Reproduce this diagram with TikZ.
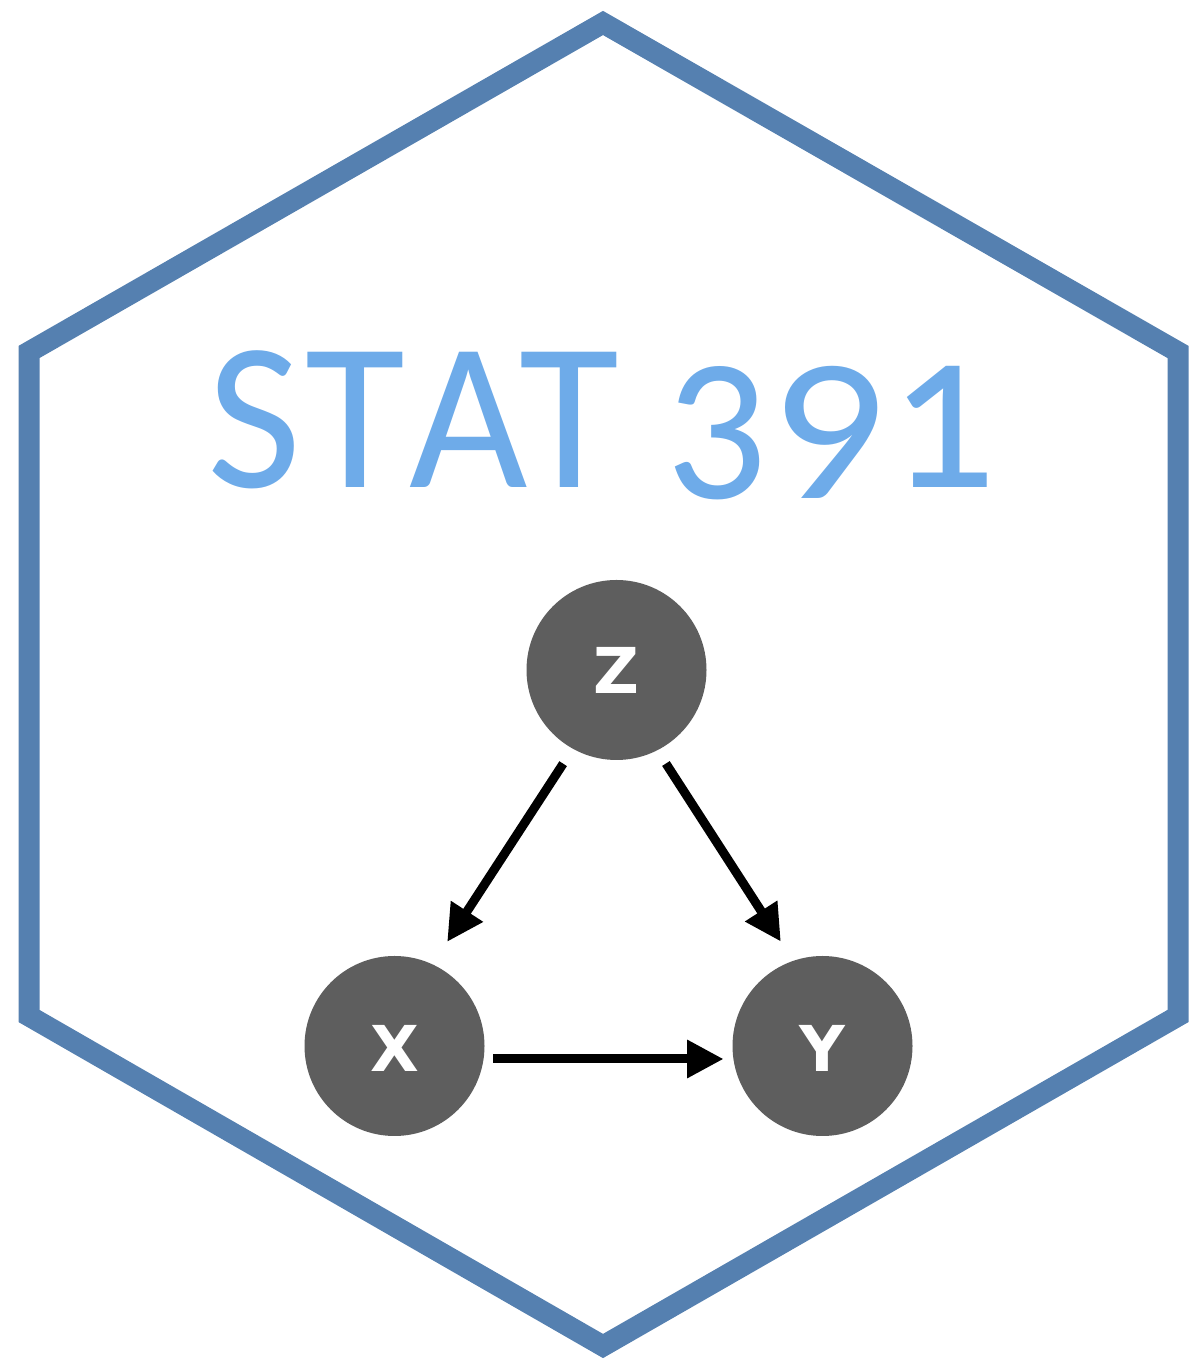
\documentclass[tikz,border=0pt]{standalone}
\usepackage{fontspec}
\usepackage{graphicx}
\newfontfamily\varfont{DejaVu Sans}
\newfontfamily\titlefont[Numbers=OldStyle, Kerning=Off, LetterSpace=2]{Carlito}
\usetikzlibrary{arrows.meta}

\begin{document}
\begin{tikzpicture}[
  % Hexagon frame
  hexframe/.style={draw=hexblue, line width=0.42cm, line join=miter},
  % Variable nodes
  var/.style={circle, fill=vargray, text=white, minimum size=3.6cm, inner sep=0pt, font=\fontsize{36}{36}\selectfont\varfont\bfseries},
  % Edges
  edge/.style={line width=0.18cm, -{Triangle[length=0.73cm, width=0.72cm]}},
  % Title
  title/.style={text=titleblue, inner sep=0pt, anchor=base west, xscale=0.97, transform shape, font=\fontsize{120}{120}\selectfont\titlefont}
]
\definecolor{hexblue}{HTML}{5580B0}
\definecolor{vargray}{HTML}{5E5E5E}
\definecolor{titleblue}{HTML}{6EABE9}

\useasboundingbox (0, 0) rectangle (24.08, 27.4);

% === Frame ===
\draw[hexframe] (12.06, 26.94) -- (23.56, 20.36) -- (23.56, 7.08) -- (12.06, 0.48) -- (0.58, 7.08) -- (0.58, 20.36) -- cycle;

% === Title ===
\node[title] (stat) at (4.15, 17.64) {STA\kern-5ptT\kern-1.8pt{} \raisebox{0.18cm}{3\kern2.3pt\scalebox{1.1}[1]{9}}\kern2.1pt\scalebox{1}[1.09]{1}};

% === Variables ===
\node[var] (z) at (12.33, 14.0) {Z};
\node[var] (x) at (7.89, 6.48) {\raisebox{-0.05cm}[\height][0pt]{X}};
\node[var] (y) at (16.45, 6.48) {\raisebox{-0.05cm}[\height][0pt]{Y}};

% === Edges ===
\draw[edge, shorten <=0.35cm, shorten >=0.53cm] (z.241.7) -- (x.65.6);
\draw[edge, shorten <=0.31cm, shorten >=0.45cm] (z.297.2) -- (y.109.3);
\draw[edge, shorten <=0.17cm, shorten >=0.17cm] ([yshift=-0.26cm]x.east) -- ([yshift=-0.26cm]y.west);

\end{tikzpicture}
\end{document}
